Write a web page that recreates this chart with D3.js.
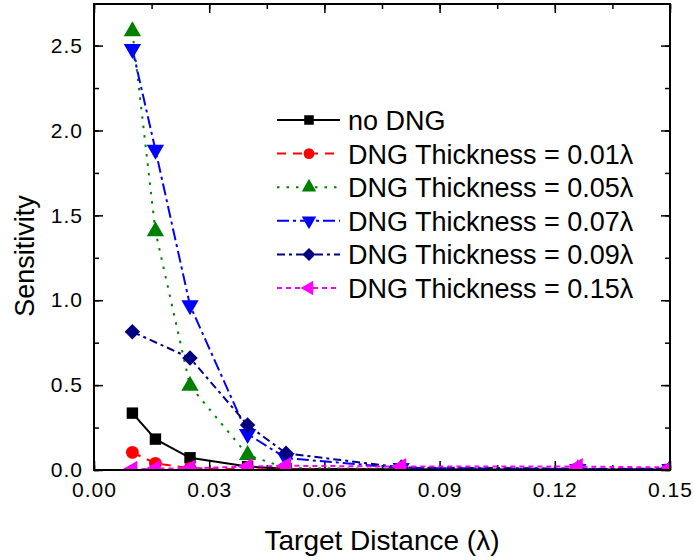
<!DOCTYPE html>
<html>
<head>
<meta charset="utf-8">
<script src="https://cdn.jsdelivr.net/npm/d3@7"></script>
<style>
  body { margin: 0; background: #fff; }
  text { font-family: "Liberation Sans", Arial, sans-serif; }
</style>
</head>
<body>
<div class="canvas"></div>
<script>
// data
const xs = [0.01, 0.016, 0.025, 0.04, 0.05, 0.08, 0.126, 0.15]
const xs09 = [0.01, 0.025, 0.04, 0.05, 0.08, 0.126, 0.15]
const noDNG = [0.335, 0.182, 0.072, 0.02, 0.008, 0.004, 0.003, 0.003]
const t001 = [0.104, 0.039, 0.01, 0.004, 0.003, 0.002, 0.002, 0.002]
const t005 = [2.584, 1.406, 0.496, 0.088, 0.012, 0.006, 0.005, 0.005]
const t007 = [2.48, 1.886, 0.97, 0.212, 0.07, 0.012, 0.006, 0.006]
const t009 = [0.814, 0.66, 0.265, 0.098, 0.015, 0.008, 0.008]
const t015 = [0.004, 0.008, 0.01, 0.02, 0.025, 0.02, 0.02, 0.015]

const names = ['no DNG', 'DNG Thickness = 0.01λ', 'DNG Thickness = 0.05λ',
    'DNG Thickness = 0.07λ', 'DNG Thickness = 0.09λ', 'DNG Thickness = 0.15λ']
const xTicks = [0, 0.03, 0.06, 0.09, 0.12, 0.15]
const yTicks = [0, 0.5, 1.0, 1.5, 2.0, 2.5]

const series = [
    {name: names[0], xs: xs, vals: noDNG, colour: '#000000', dash: null, sym: d3.symbolSquare, size: 130, rot: 0},
    {name: names[1], xs: xs, vals: t001, colour: '#ff0000', dash: '9,7', sym: d3.symbolCircle, size: 130, rot: 0},
    {name: names[2], xs: xs, vals: t005, colour: '#008000', dash: '2.5,7', sym: d3.symbolTriangle, size: 130, rot: 0},
    {name: names[3], xs: xs, vals: t007, colour: '#0000ff', dash: '12,4,3,4', sym: d3.symbolTriangle, size: 130, rot: 180},
    {name: names[4], xs: xs09, vals: t009, colour: '#000080', dash: '8,4,3,4', sym: d3.symbolSquare, size: 120, rot: 45},
    {name: names[5], xs: xs, vals: t015, colour: '#ff00ff', dash: '5,4', sym: d3.symbolTriangle, size: 130, rot: -90}
]

const dims = {width: 693, height: 560}
const margin = {left: 94, right: 23, top: 4, bottom: 90}
const iw = dims.width - margin.left - margin.right
const ih = dims.height - margin.top - margin.bottom

const svg = d3.select('.canvas')
    .append('svg')
    .attr('width', dims.width)
    .attr('height', dims.height)

const x = d3.scaleLinear().domain([0, 0.15]).range([0, iw])
const y = d3.scaleLinear().domain([0, 2.745]).range([ih, 0])

const graph = svg.append('g')
    .attr('transform', `translate(${margin.left}, ${margin.top})`)

// clip so lines stay inside the frame
graph.append('clipPath').attr('id', 'clip')
    .append('rect').attr('width', iw).attr('height', ih)

const minorX = d3.range(0, 0.1501, 0.015)
const minorY = d3.range(0, 2.71, 0.25)

// axes, ticks inward on all four sides
const tickStyle = g => {
    g.select('.domain').remove()
    g.selectAll('line').attr('stroke', '#000').attr('stroke-width', 1.5)
    g.selectAll('text').attr('font-size', 21).attr('letter-spacing', 1).attr('fill', '#000')
}

graph.append('g').attr('transform', `translate(0,${ih})`)
    .call(d3.axisBottom(x).tickValues(minorX).tickSize(-5).tickFormat(''))
    .call(tickStyle)
graph.append('g').attr('transform', `translate(0,${ih})`)
    .call(d3.axisBottom(x).tickValues(xTicks).tickSize(-9).tickPadding(12).tickFormat(d3.format('.2f')))
    .call(tickStyle)
graph.append('g')
    .call(d3.axisTop(x).tickValues(minorX).tickSize(-5).tickFormat(''))
    .call(tickStyle)
graph.append('g')
    .call(d3.axisTop(x).tickValues(xTicks).tickSize(-9).tickFormat(''))
    .call(tickStyle)
graph.append('g')
    .call(d3.axisLeft(y).tickValues(minorY).tickSize(-5).tickFormat(''))
    .call(tickStyle)
graph.append('g')
    .call(d3.axisLeft(y).tickValues(yTicks).tickSize(-9).tickPadding(11).tickFormat(d3.format('.1f')))
    .call(tickStyle)
graph.append('g').attr('transform', `translate(${iw},0)`)
    .call(d3.axisRight(y).tickValues(minorY).tickSize(-5).tickFormat(''))
    .call(tickStyle)
graph.append('g').attr('transform', `translate(${iw},0)`)
    .call(d3.axisRight(y).tickValues(yTicks).tickSize(-9).tickFormat(''))
    .call(tickStyle)

const line = d3.line()
    .x(d => x(d[0]))
    .y(d => y(d[1]))

series.forEach(s => {
    const pts = s.xs.map((v, i) => [v, s.vals[i]])
    graph.append('path')
        .attr('clip-path', 'url(#clip)')
        .attr('d', line(pts))
        .attr('fill', 'none')
        .attr('stroke', s.colour)
        .attr('stroke-width', 2)
        .attr('stroke-dasharray', s.dash)
    graph.append('g').attr('clip-path', 'url(#clip)')
        .selectAll('path')
        .data(pts)
        .enter()
        .append('path')
            .attr('d', d3.symbol().type(s.sym).size(s.size))
            .attr('transform', d => `translate(${x(d[0])},${y(d[1])}) rotate(${s.rot})`)
            .attr('fill', s.colour)
})

// frame
graph.append('rect')
    .attr('width', iw).attr('height', ih)
    .attr('fill', 'none').attr('stroke', '#000').attr('stroke-width', 2)

// legend
const legendGroup = svg.append('g')
    .attr('transform', 'translate(277, 120)')

series.forEach((s, i) => {
    const row = legendGroup.append('g').attr('transform', `translate(0, ${i * 33.6})`)
    row.append('line')
        .attr('x1', 0).attr('x2', 63)
        .attr('stroke', s.colour).attr('stroke-width', 2)
        .attr('stroke-dasharray', s.dash)
    row.append('path')
        .attr('d', d3.symbol().type(s.sym).size(s.size * 0.7))
        .attr('transform', `translate(32,0) rotate(${s.rot})`)
        .attr('fill', s.colour)
    row.append('text')
        .attr('x', 71).attr('y', 10)
        .attr('font-size', 27)
        .text(s.name)
})

// axis titles
svg.append('text')
    .attr('x', margin.left + iw / 2).attr('y', 550)
    .attr('text-anchor', 'middle')
    .attr('font-size', 28)
    .text('Target Distance (λ)')

svg.append('text')
    .attr('transform', 'translate(34, 256) rotate(-90)')
    .attr('text-anchor', 'middle')
    .attr('font-size', 27)
    .text('Sensitivity')
</script>
</body>
</html>
